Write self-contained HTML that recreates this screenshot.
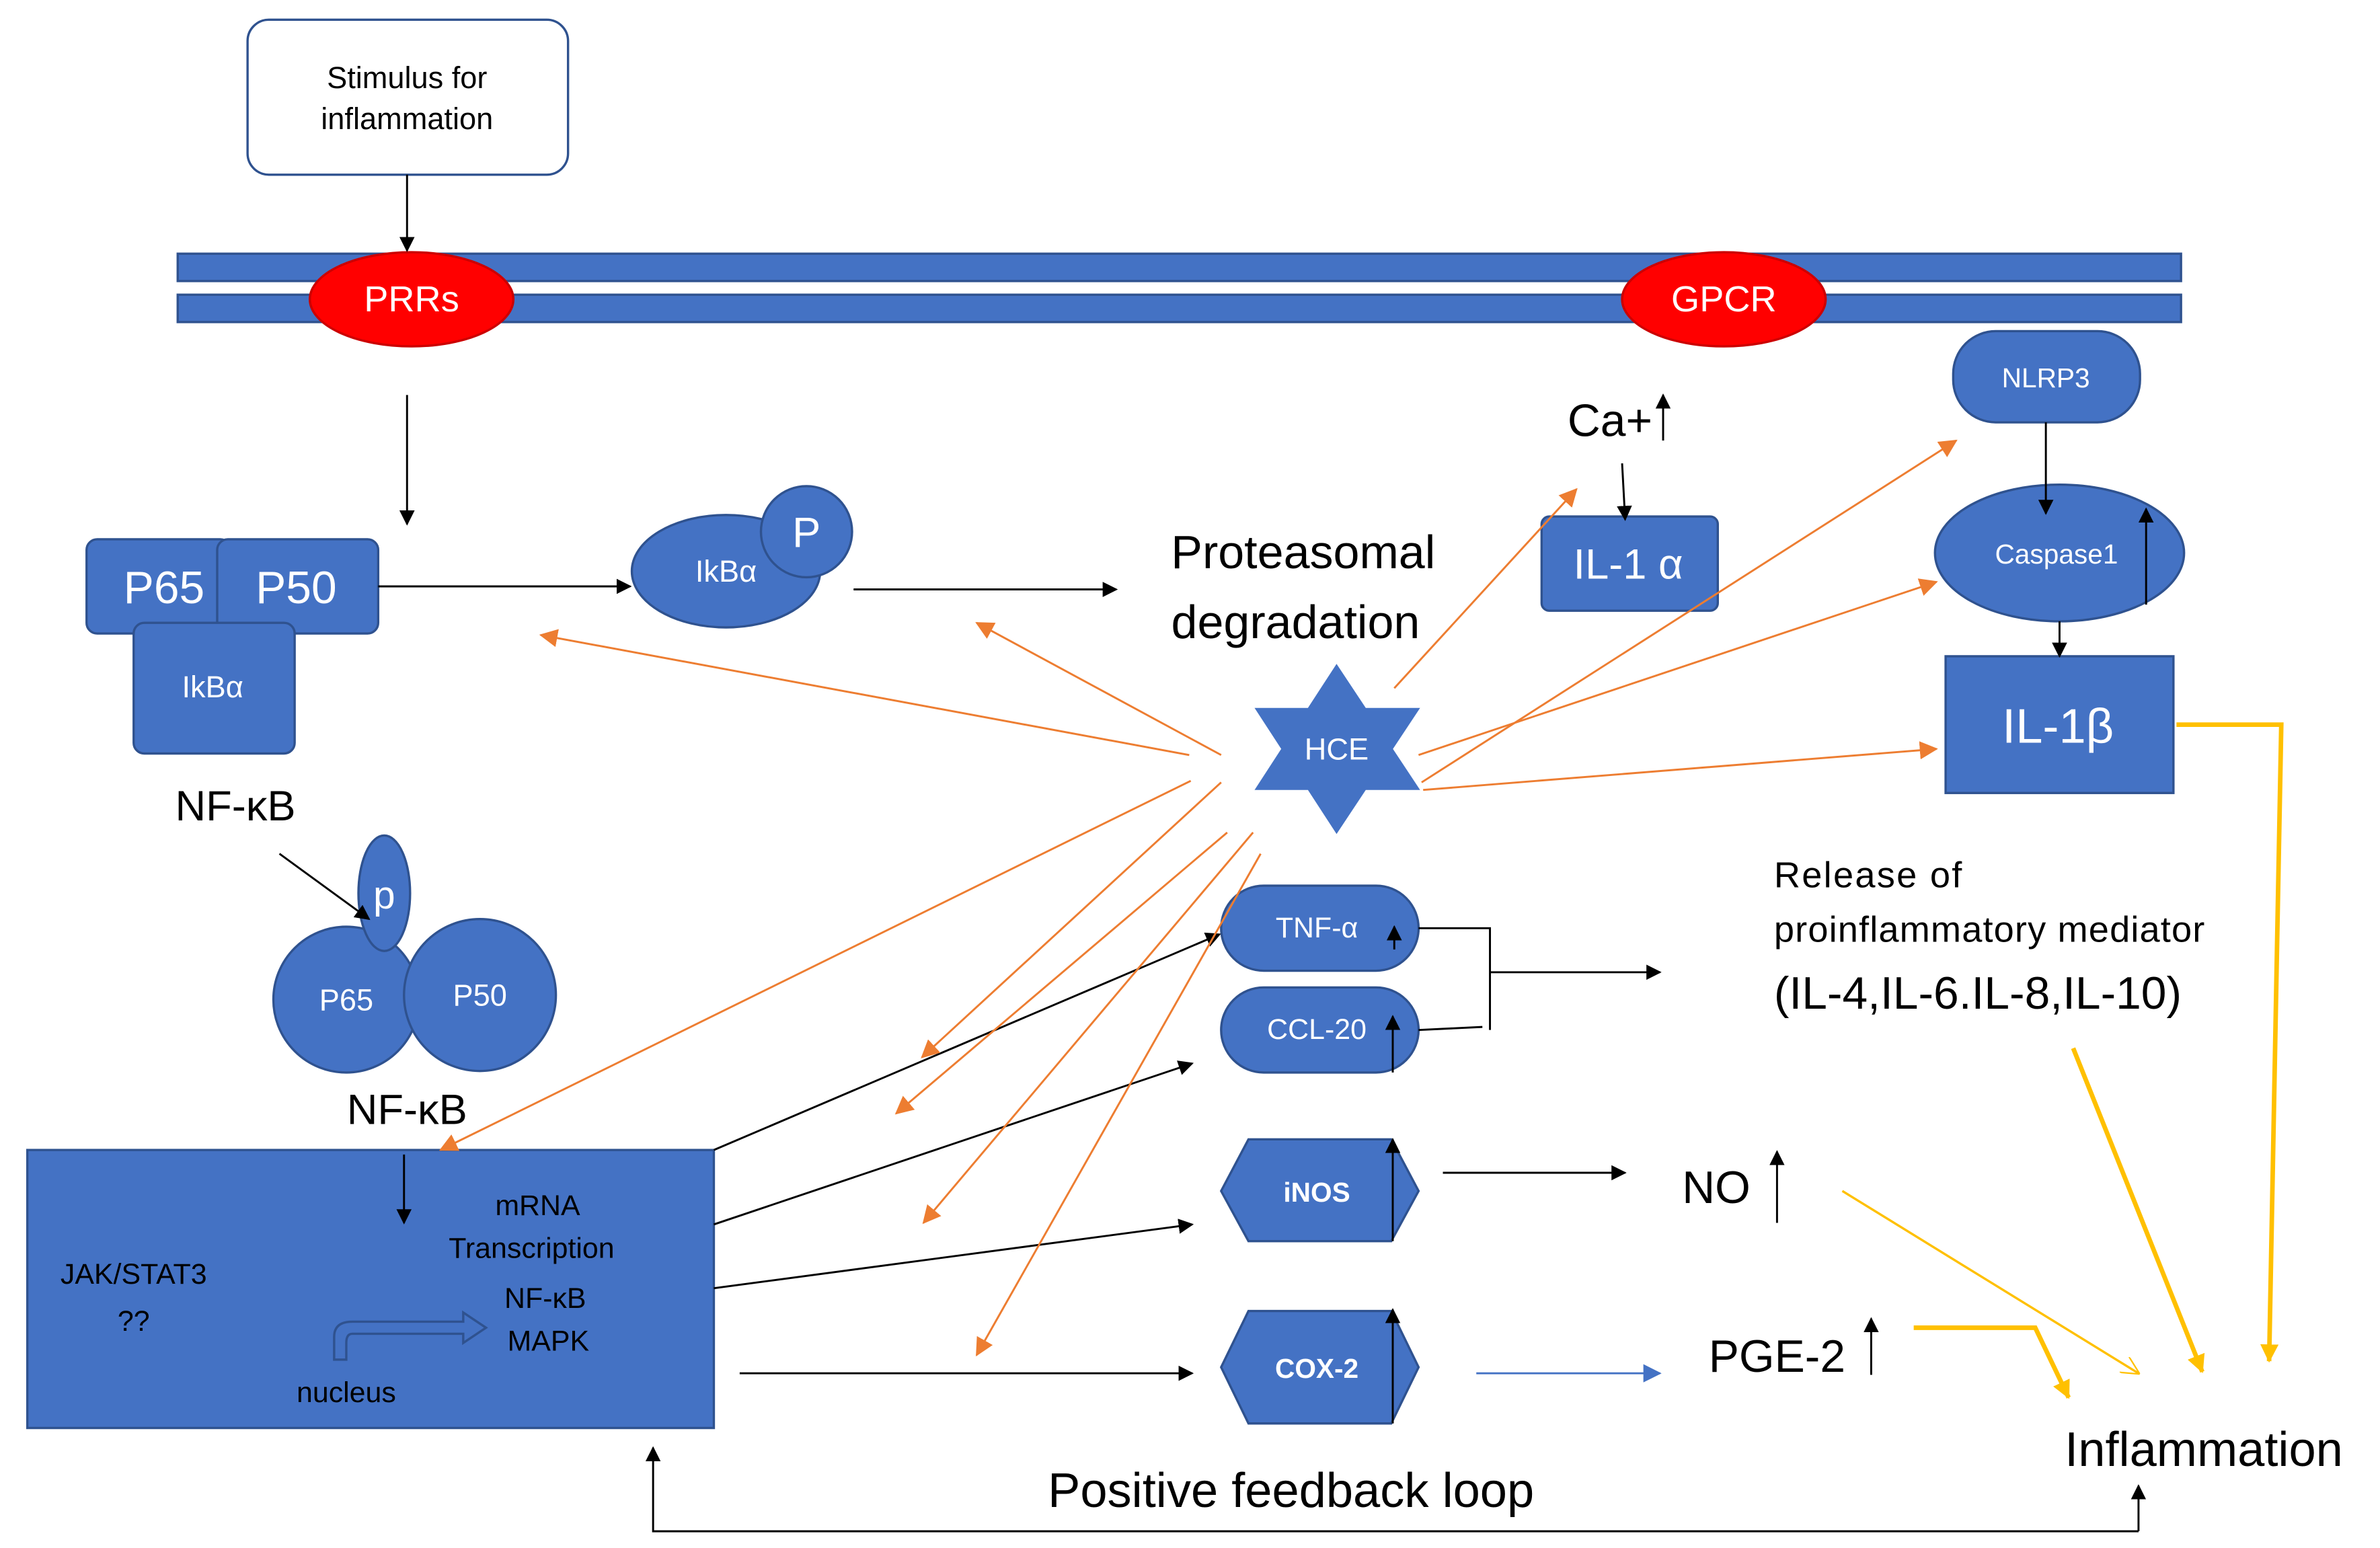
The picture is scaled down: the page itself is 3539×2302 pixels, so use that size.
<!DOCTYPE html>
<html><head><meta charset="utf-8"><style>
html,body{margin:0;padding:0;background:#fff;}
svg{display:block;}
text{font-family:"Liberation Sans",sans-serif;}
</style></head><body>
<svg width="3539" height="2302" viewBox="0 0 1567 1019" preserveAspectRatio="none" xmlns="http://www.w3.org/2000/svg">
<defs>
<marker id="ab" markerWidth="10" markerHeight="10" refX="9" refY="5" orient="auto" markerUnits="userSpaceOnUse"><path d="M0,0 L10,5 L0,10 z" fill="#000"/></marker>
<marker id="ao" markerWidth="12" markerHeight="12" refX="11" refY="6" orient="auto" markerUnits="userSpaceOnUse"><path d="M0,0 L12,6 L0,12 z" fill="#ed7d31"/></marker>
<marker id="ay" markerWidth="12" markerHeight="12" refX="11" refY="6" orient="auto" markerUnits="userSpaceOnUse"><path d="M0,0 L12,6 L0,12 z" fill="#ffc000"/></marker>
<marker id="ayo" markerWidth="12" markerHeight="12" refX="11" refY="6" orient="auto" markerUnits="userSpaceOnUse"><path d="M0,0 L12,6 M0,12 L12,6" stroke="#ffc000" fill="none"/></marker>
<marker id="abl" markerWidth="12" markerHeight="12" refX="11" refY="6" orient="auto" markerUnits="userSpaceOnUse"><path d="M0,0 L12,6 L0,12 z" fill="#4472c4"/></marker>
</defs>
<g fill="#4472c4" stroke="#2f528f" stroke-width="1.5">
<rect x="163" y="13" width="211" height="102" rx="14" fill="#fff"/>
<rect x="117" y="167" width="1319" height="18"/>
<rect x="117" y="194" width="1319" height="18"/>
<ellipse cx="271" cy="197" rx="67" ry="31" fill="#f00" stroke="#c00"/>
<ellipse cx="1135" cy="197" rx="67" ry="31" fill="#f00" stroke="#c00"/>
<rect x="57" y="355" width="95" height="62" rx="7"/>
<rect x="143" y="355" width="106" height="62" rx="7"/>
<rect x="88" y="410" width="106" height="86" rx="7"/>
<ellipse cx="478" cy="376" rx="62" ry="37"/>
<circle cx="531" cy="350" r="30"/>
<rect x="1015" y="340" width="116" height="62" rx="5"/>
<rect x="1286" y="218" width="123" height="60" rx="28"/>
<ellipse cx="1356" cy="364" rx="82" ry="45"/>
<rect x="1281" y="432" width="150" height="90"/>
<path d="M880,437 L935,520 L826,520 Z M880,549 L826,466 L935,466 Z" stroke="none"/>
<circle cx="228" cy="658" r="48"/>
<circle cx="316" cy="655" r="50"/>
<ellipse cx="253" cy="588" rx="17" ry="38"/>
<rect x="18" y="757" width="452" height="183"/>
<rect x="804" y="583" width="130" height="56" rx="28"/>
<rect x="804" y="650" width="130" height="56" rx="28"/>
<path d="M822,750 L916,750 L934,784 L916,817 L822,817 L804,784 Z"/>
<path d="M822,863 L916,863 L934,900 L916,937 L822,937 L804,900 Z"/>
</g>
<g font-size="20" text-anchor="middle" fill="#000">
<text x="268" y="58">Stimulus for</text>
<text x="268" y="85">inflammation</text>
</g>
<g fill="#fff" text-anchor="middle">
<text x="271" y="205" font-size="24">PRRs</text>
<text x="1135" y="205" font-size="24">GPCR</text>
<text x="108" y="397" font-size="30">P65</text>
<text x="195" y="397" font-size="30">P50</text>
<text x="140" y="459" font-size="20">IkBα</text>
<text x="478" y="383" font-size="20">IkBα</text>
<text x="531" y="360" font-size="28">P</text>
<text x="1072" y="381" font-size="28">IL-1 α</text>
<text x="1347" y="255" font-size="18">NLRP3</text>
<text x="1354" y="371" font-size="18">Caspase1</text>
<text x="1355" y="489" font-size="32">IL-1β</text>
<text x="880" y="500" font-size="20">HCE</text>
<text x="253" y="598" font-size="26">p</text>
<text x="228" y="665" font-size="20">P65</text>
<text x="316" y="662" font-size="20">P50</text>
<text x="867" y="617" font-size="19">TNF-α</text>
<text x="867" y="684" font-size="19">CCL-20</text>
<text x="867" y="791" font-size="18" font-weight="bold">iNOS</text>
<text x="867" y="907" font-size="18" font-weight="bold">COX-2</text>
</g>
<g fill="#000" text-anchor="middle">
<text x="155" y="540" font-size="28">NF-κB</text>
<text x="268" y="740" font-size="28">NF-κB</text>
<text x="858" y="374" font-size="31">Proteasomal</text>
<text x="853" y="420" font-size="31">degradation</text>
<text x="1060" y="287" font-size="30">Ca+</text>
<text x="1130" y="792" font-size="30">NO</text>
<text x="1170" y="903" font-size="30">PGE-2</text>
<text x="1451" y="965" font-size="32">Inflammation</text>
<text x="850" y="992" font-size="32">Positive feedback loop</text>
<g font-size="19">
<text x="354" y="800">mRNA</text>
<text x="350" y="828">Transcription</text>
<text x="359" y="861">NF-κB</text>
<text x="361" y="889">MAPK</text>
<text x="228" y="923">nucleus</text>
<text x="88" y="845">JAK/STAT3</text>
<text x="88" y="876">??</text>
</g>
</g>
<g fill="#000" font-size="24">
<text x="1168" y="584" letter-spacing="1">Release of</text>
<text x="1168" y="620" letter-spacing="0.5">proinflammatory mediator</text>
<text x="1168" y="664" font-size="30">(IL-4,IL-6.IL-8,IL-10)</text>
</g>
<path d="M220,895 L220,880 Q220,870 232,870 L305,870 L305,864 L320,874 L305,884 L305,878 L232,878 Q228,878 228,884 L228,895 Z" fill="none" stroke="#2f528f" stroke-width="1.5"/>
<g stroke="#000" stroke-width="1.3" fill="none" marker-end="url(#ab)">
<line x1="268" y1="115" x2="268" y2="165"/>
<line x1="268" y1="260" x2="268" y2="345"/>
<line x1="249" y1="386" x2="415" y2="386"/>
<line x1="562" y1="388" x2="735" y2="388"/>
<line x1="1095" y1="290" x2="1095" y2="260"/>
<line x1="1068" y1="305" x2="1070" y2="342"/>
<line x1="1347" y1="278" x2="1347" y2="338"/>
<line x1="1413" y1="398" x2="1413" y2="335"/>
<line x1="1356" y1="409" x2="1356" y2="432"/>
<line x1="184" y1="562" x2="243" y2="605"/>
<line x1="266" y1="760" x2="266" y2="805"/>
<line x1="470" y1="757" x2="803" y2="615"/>
<line x1="470" y1="806" x2="785" y2="700"/>
<line x1="470" y1="848" x2="785" y2="806"/>
<line x1="487" y1="904" x2="785" y2="904"/>
<line x1="918" y1="625" x2="918" y2="610"/>
<line x1="917" y1="706" x2="917" y2="669"/>
<line x1="917" y1="817" x2="917" y2="750"/>
<line x1="917" y1="937" x2="917" y2="862"/>
<line x1="981" y1="640" x2="1093" y2="640"/>
<line x1="950" y1="772" x2="1070" y2="772"/>
<line x1="1170" y1="805" x2="1170" y2="758"/>
<line x1="1232" y1="905" x2="1232" y2="868"/>
<polyline points="1408,1008 430,1008 430,953"/>
<line x1="1408" y1="1008" x2="1408" y2="978"/>
</g>
<polyline points="934,611 981,611 981,678" stroke="#000" stroke-width="1.3" fill="none"/>
<line x1="934" y1="678" x2="976" y2="676" stroke="#000" stroke-width="1.3"/>
<line x1="972" y1="904" x2="1093" y2="904" stroke="#4472c4" stroke-width="1.3" marker-end="url(#abl)"/>
<g stroke="#ed7d31" stroke-width="1.3" marker-end="url(#ao)">
<line x1="783" y1="497" x2="356" y2="418"/>
<line x1="804" y1="497" x2="643" y2="410"/>
<line x1="918" y1="453" x2="1038" y2="322"/>
<line x1="936" y1="515" x2="1288" y2="290"/>
<line x1="934" y1="497" x2="1275" y2="383"/>
<line x1="937" y1="520" x2="1275" y2="493"/>
<line x1="784" y1="514" x2="290" y2="757"/>
<line x1="804" y1="515" x2="607" y2="696"/>
<line x1="808" y1="548" x2="590" y2="733"/>
<line x1="825" y1="548" x2="608" y2="805"/>
<line x1="830" y1="562" x2="643" y2="892"/>
</g>
<g stroke="#ffc000" fill="none">
<polyline points="1433,477 1502,477 1494,896" stroke-width="3" marker-end="url(#ay)"/>
<line x1="1365" y1="690" x2="1450" y2="903" stroke-width="3" marker-end="url(#ay)"/>
<line x1="1213" y1="784" x2="1408" y2="904" stroke-width="1.5" marker-end="url(#ayo)"/>
<polyline points="1260,874 1340,874 1362,920" stroke-width="3" marker-end="url(#ay)"/>
</g>
</svg>
</body></html>
